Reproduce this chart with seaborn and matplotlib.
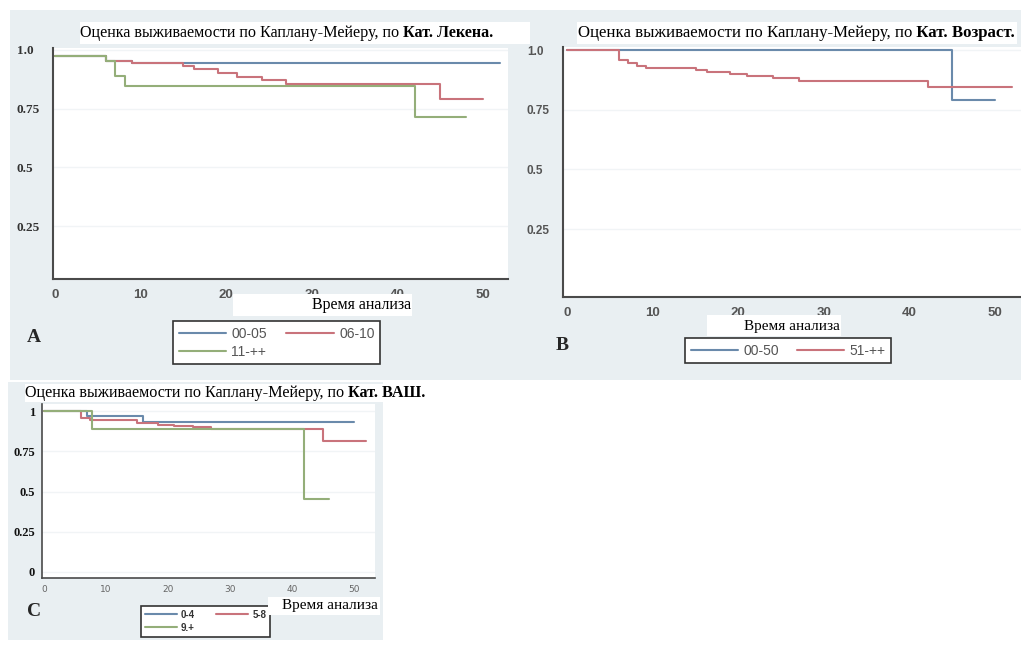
import matplotlib
matplotlib.use('Agg')
import matplotlib.pyplot as plt
from matplotlib.patches import Rectangle
from matplotlib.lines import Line2D
import seaborn as sns
import pandas as pd

W, H = 1021, 646

# ---- panel A: Кат. Лекена
a_groups = ['00-05', '06-10', '11-++']
a_t_0005 = [0, 6, 9, 52]
a_s_0005 = [0.975, 0.953, 0.943, 0.943]
a_t_0610 = [0, 6, 9, 15, 16.2, 19, 21.2, 24.2, 27, 45, 50]
a_s_0610 = [0.975, 0.953, 0.943, 0.932, 0.92, 0.90, 0.886, 0.87, 0.856, 0.79, 0.79]
a_t_11 = [0, 6, 7, 8.2, 42, 48]
a_s_11 = [0.975, 0.953, 0.89, 0.847, 0.716, 0.716]

# ---- panel B: Кат. Возраст
b_groups = ['00-50', '51-++']
b_t_0050 = [0, 45, 50]
b_s_0050 = [1.0, 0.79, 0.79]
b_t_51 = [0, 6.1, 7.1, 8.2, 9.2, 15, 16.3, 19, 21, 24, 27.1, 42.1, 52]
b_s_51 = [1.0, 0.958, 0.946, 0.933, 0.925, 0.916, 0.908, 0.9, 0.891, 0.883, 0.87, 0.845, 0.845]

# ---- panel C: Кат. ВАШ
c_groups = ['0-4', '5-8', '9.+']
c_t_04 = [0, 7, 16, 50]
c_s_04 = [1.0, 0.967, 0.933, 0.933]
c_t_58 = [0, 6, 7.5, 15, 18.4, 20.9, 24, 27, 45, 52]
c_s_58 = [1.0, 0.954, 0.946, 0.925, 0.915, 0.906, 0.898, 0.887, 0.815, 0.815]
c_t_9 = [0, 7.8, 42, 46]
c_s_9 = [1.0, 0.89, 0.454, 0.454]

xticks = [0, 10, 20, 30, 40, 50]
yticks_ab = [0.25, 0.5, 0.75, 1.0]
yticklabels_ab = ['0.25', '0.5', '0.75', '1.0']
yticks_c = [0, 0.25, 0.5, 0.75, 1.0]
yticklabels_c = ['0', '0.25', '0.5', '0.75', '1']

title_main = 'Оценка выживаемости по Каплану-Мейеру, по'
xlab = 'Время анализа'

colors = ['#6a8aab', '#c9737b', '#94ae79']
bg = '#e9eff2'
serif = 'Liberation Serif'
sans = 'Liberation Sans'


def steps_df(groups, times, surv):
    rows = []
    for g, t, s in zip(groups, times, surv):
        for ti, si in zip(t, s):
            rows.append((g, ti, si))
    return pd.DataFrame(rows, columns=['group', 'time', 'surv'])


sns.set_style('white')
fig = plt.figure(figsize=(W / 100, H / 100), dpi=100, facecolor='white')


def px_axes(x0, y0, x1, y1):
    return fig.add_axes([x0 / W, 1 - y1 / H, (x1 - x0) / W, (y1 - y0) / H])


def rect(x0, y0, x1, y1, color, z):
    fig.add_artist(Rectangle((x0 / W, 1 - y1 / H), (x1 - x0) / W, (y1 - y0) / H,
                             transform=fig.transFigure, facecolor=color,
                             edgecolor='none', zorder=z))


def ftext(x, y, s, **kw):
    return fig.text(x / W, 1 - y / H, s, zorder=8, **kw)


# panel backgrounds
rect(10, 10, 1021, 380, bg, -2)
rect(8, 382, 383, 640, bg, -2)


def km_panel(ax, df, groups, xlim, ylim, yticks, ylabels):
    sns.lineplot(data=df, x='time', y='surv', hue='group', hue_order=groups,
                 palette=colors[:len(groups)], estimator=None, sort=False,
                 drawstyle='steps-post', lw=1.5, legend=False, ax=ax)
    ax.set_facecolor('white')
    ax.set_xlim(*xlim)
    ax.set_ylim(*ylim)
    ax.set_xticks(xticks)
    ax.set_yticks(yticks)
    ax.set_yticklabels(ylabels)
    ax.set_xlabel('')
    ax.set_ylabel('')
    ax.yaxis.grid(True, color='#f1f4f6', lw=1)
    ax.set_axisbelow(True)
    for side in ['top', 'right']:
        ax.spines[side].set_visible(False)
    for side in ['left', 'bottom']:
        ax.spines[side].set_color('#4a4a4a')
        ax.spines[side].set_linewidth(1.5)


# ---------------- A
axA = px_axes(53, 48, 508, 279)
km_panel(axA, steps_df(a_groups, [a_t_0005, a_t_0610, a_t_11], [a_s_0005, a_s_0610, a_s_11]),
         a_groups, (-0.23, 52.9), (0.025, 1.008), yticks_ab, yticklabels_ab)
axA.tick_params(axis='x', length=4, width=1.3, color='#4a4a4a', pad=3.5, labelsize=9.5, labelcolor='#555555')
axA.tick_params(axis='y', length=0, pad=26, labelsize=9.5, labelcolor='#333333')
for lb in axA.get_xticklabels():
    lb.set_fontfamily(sans)
    lb.set_fontweight('bold')
for lb in axA.get_yticklabels():
    lb.set_fontfamily(serif)
    lb.set_fontweight('bold')
    lb.set_ha('left')

# ---------------- B
axB = px_axes(563, 47, 1021, 297)
km_panel(axB, steps_df(b_groups, [b_t_0050, b_t_51], [b_s_0050, b_s_51]),
         b_groups, (-0.47, 53.0), (-0.035, 1.013), yticks_ab, yticklabels_ab)
axB.tick_params(axis='x', length=4, width=1.3, color='#4a4a4a', pad=3.5, labelsize=9.5, labelcolor='#555555')
axB.tick_params(axis='y', length=0, pad=26, labelsize=8.5, labelcolor='#555555')
for lb in axB.get_xticklabels() + axB.get_yticklabels():
    lb.set_fontfamily(sans)
    lb.set_fontweight('bold')
for lb in axB.get_yticklabels():
    lb.set_ha('left')

# ---------------- C
axC = px_axes(42, 404, 375, 578)
km_panel(axC, steps_df(c_groups, [c_t_04, c_t_58, c_t_9], [c_s_04, c_s_58, c_s_9]),
         c_groups, (-0.32, 53.4), (-0.0375, 1.044), yticks_c, yticklabels_c)
axC.tick_params(axis='x', length=3, width=1, color='#777777', pad=2, labelsize=6.5, labelcolor='#666666')
axC.tick_params(axis='y', length=4, width=1, color='#555555', pad=1, labelsize=9, labelcolor='#111111')
for lb in axC.get_yticklabels():
    lb.set_fontfamily(serif)
    lb.set_fontweight('bold')
axC.spines['left'].set_linewidth(1.2)
axC.spines['bottom'].set_linewidth(1.2)


# ---------------- titles (white boxes with normal + bold part)
def title(x0, y0, x1, y1, tx, bold, size):
    rect(x0, y0, x1, y1, 'white', 7)
    t1 = ftext(tx, (y0 + y1) / 2, title_main, ha='left', va='center',
               family=serif, size=size, color='black')
    fig.canvas.draw()
    bb = t1.get_window_extent(fig.canvas.get_renderer())
    fig.text(bb.x1 / W, 1 - (y0 + y1) / 2 / H, ' ' + bold, ha='left', va='center',
             family=serif, size=size, weight='bold', color='black', zorder=8)


title(80, 22, 530, 44, 80, 'Кат. Лекена.', 11.6)
title(577, 22, 1017, 44, 578, 'Кат. Возраст.', 12.1)
title(25, 384, 432, 402, 25, 'Кат. ВАШ.', 11.6)

# ---------------- x labels in white boxes
rect(233, 294, 412, 316, 'white', 7)
ftext(411, 305, xlab, ha='right', va='center', family=serif, size=11.5, color='black')
rect(707, 315, 841, 336, 'white', 7)
ftext(840, 326, xlab, ha='right', va='center', family=serif, size=11, color='black')
rect(268, 597, 380, 615, 'white', 7)
ftext(378, 606, xlab, ha='right', va='center', family=serif, size=11, color='black')

# ---------------- panel letters
ftext(27, 337, 'A', ha='left', va='center', family=serif, size=14, weight='bold')
ftext(556, 346, 'B', ha='left', va='center', family=serif, size=14, weight='bold')
ftext(27, 611, 'C', ha='left', va='center', family=serif, size=14, weight='bold')


# ---------------- legends
def legend(groups, order, anchor, size, hl, cs, weight, tcolor):
    handles = [Line2D([], [], color=colors[i], lw=1.5) for i in range(len(groups))]
    hs = [handles[i] for i in order]
    ls = [groups[i] for i in order]
    leg = fig.legend(hs, ls, loc='upper left', bbox_to_anchor=(anchor[0] / W, 1 - anchor[1] / H),
                     ncol=2, frameon=True, fancybox=False, edgecolor='#333333',
                     facecolor='white', framealpha=1, borderaxespad=0, borderpad=0.4,
                     handlelength=hl, handletextpad=0.4, columnspacing=cs,
                     labelspacing=0.3, prop={'family': sans, 'size': size, 'weight': weight})
    leg.get_frame().set_linewidth(1.2)
    leg.set_zorder(6)
    for t in leg.get_texts():
        t.set_color(tcolor)
    return leg


legend(a_groups, [0, 2, 1], (173, 321), 10, 3.4, 1.4, 'normal', '#555555')
legend(b_groups, [0, 1], (685, 338), 10, 3.4, 1.3, 'normal', '#555555')
legend(c_groups, [0, 2, 1], (141, 606), 7, 3.3, 2.2, 'bold', '#333333')

fig.savefig('out.png', dpi=100)
